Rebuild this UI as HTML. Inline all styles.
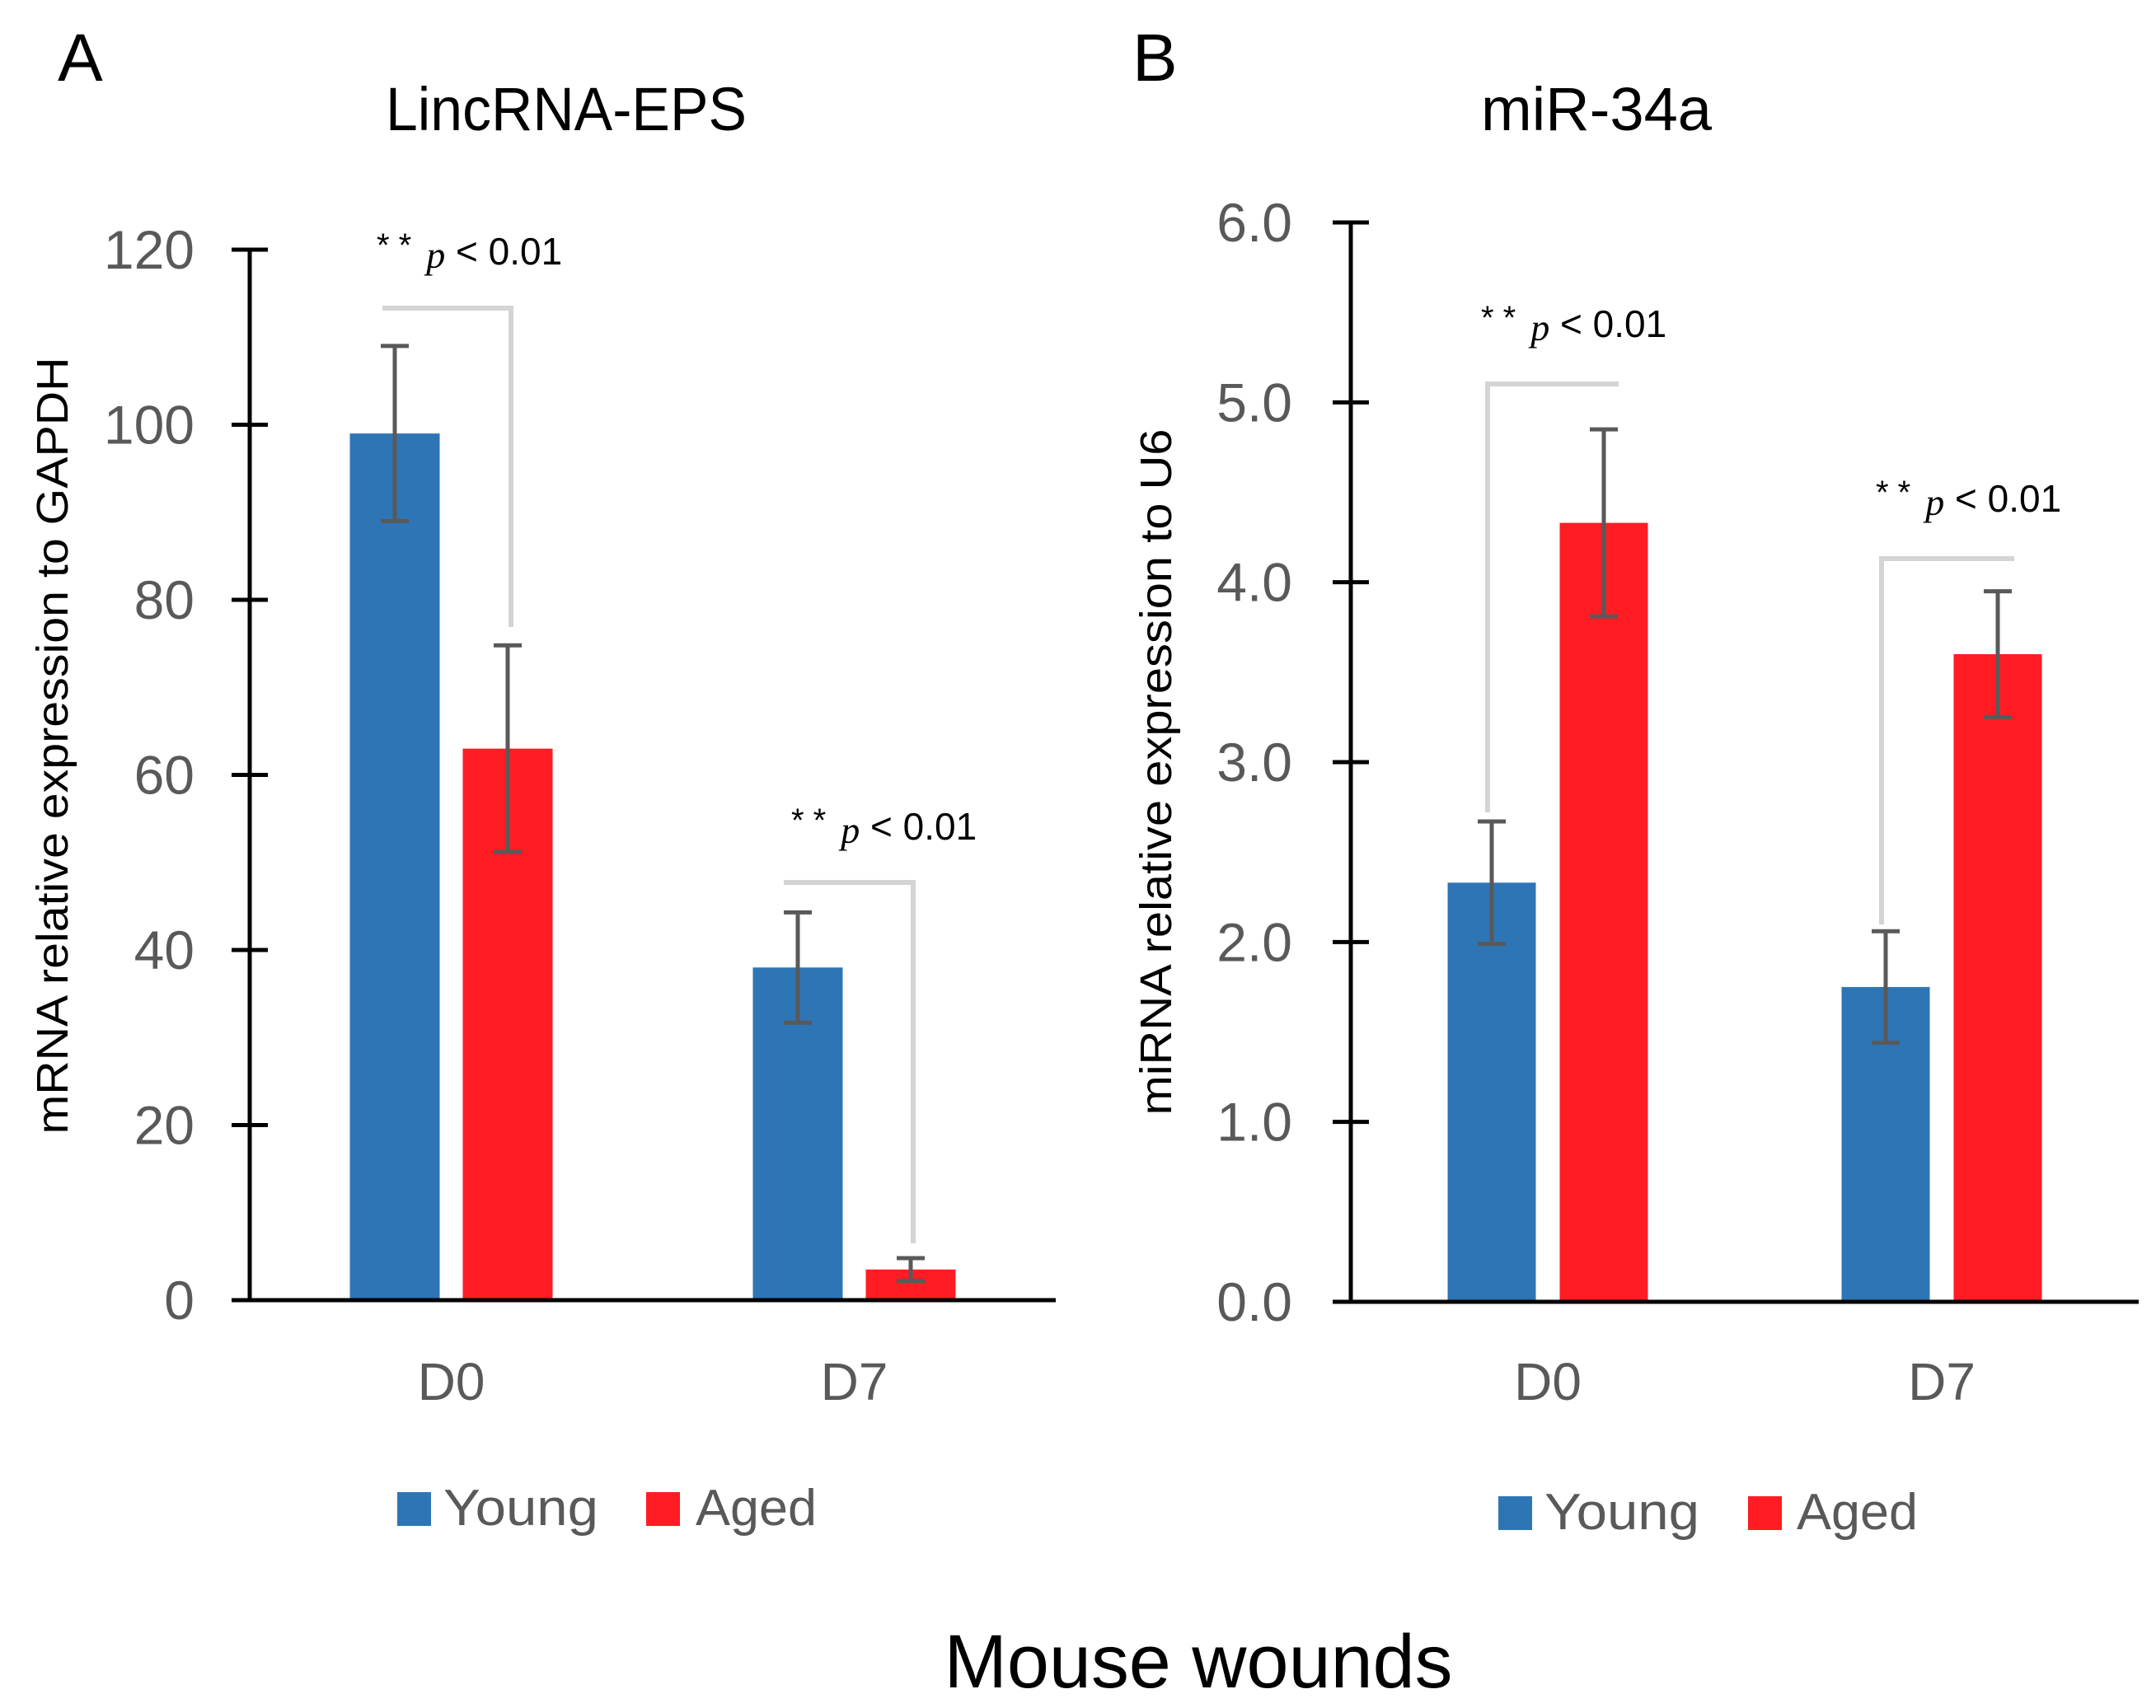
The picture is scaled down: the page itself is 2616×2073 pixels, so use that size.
<!DOCTYPE html>
<html><head><meta charset="utf-8"><style>
html,body{margin:0;padding:0;background:#fff;}
svg{display:block;font-family:"Liberation Sans",sans-serif;}
</style></head><body>
<svg id="fig" width="2616" height="2073" viewBox="0 0 2616 2073" xmlns="http://www.w3.org/2000/svg">
<text x="70" y="98" font-size="82" fill="#000">A</text>
<text x="1374" y="98" font-size="82" fill="#000">B</text>
<text x="687" y="158" font-size="74" text-anchor="middle" textLength="438" lengthAdjust="spacingAndGlyphs" fill="#000">LincRNA-EPS</text>
<text x="1937" y="158" font-size="74" text-anchor="middle" textLength="280" lengthAdjust="spacingAndGlyphs" fill="#000">miR-34a</text>
<text transform="translate(82,905) rotate(-90)" font-size="54" text-anchor="middle" textLength="943" lengthAdjust="spacingAndGlyphs" fill="#000">mRNA relative expression to GAPDH</text>
<text transform="translate(1421,937) rotate(-90)" font-size="54" text-anchor="middle" textLength="833" lengthAdjust="spacingAndGlyphs" fill="#000">miRNA relative expression to U6</text>
<g id="chartA"></g>
<g id="chartB"></g>
<g>
<rect x="482" y="1811" width="41" height="41" fill="#2e75b6"/>
<text x="538" y="1851" font-size="62" fill="#595959" textLength="188" lengthAdjust="spacingAndGlyphs">Young</text>
<rect x="784" y="1811" width="41" height="41" fill="#ff1c23"/>
<text x="844" y="1851" font-size="62" fill="#595959" textLength="147" lengthAdjust="spacingAndGlyphs">Aged</text>
</g>
<g>
<rect x="1818" y="1816" width="41" height="41" fill="#2e75b6"/>
<text x="1874" y="1856" font-size="62" fill="#595959" textLength="188" lengthAdjust="spacingAndGlyphs">Young</text>
<rect x="2121" y="1816" width="41" height="41" fill="#ff1c23"/>
<text x="2180" y="1856" font-size="62" fill="#595959" textLength="147" lengthAdjust="spacingAndGlyphs">Aged</text>
</g>
<text x="1454" y="2048" font-size="92" text-anchor="middle" textLength="617" lengthAdjust="spacingAndGlyphs" fill="#000">Mouse wounds</text>
</svg>
<script>
const categories = ["D0", "D7"];
const aYoung = [99, 38];
const aAged = [63, 3.5];
const aYoungErr = [10, 6.3];
const aAgedErr = [11.8, 1.3];
const aTicks = [0, 20, 40, 60, 80, 100, 120];
const aTickLabels = ["0", "20", "40", "60", "80", "100", "120"];
const bYoung = [2.33, 1.75];
const bAged = [4.33, 3.6];
const bYoungErr = [0.34, 0.31];
const bAgedErr = [0.52, 0.35];
const bTicks = [0, 1, 2, 3, 4, 5, 6];
const bTickLabels = ["0.0", "1.0", "2.0", "3.0", "4.0", "5.0", "6.0"];

const NS = "http://www.w3.org/2000/svg";
function mk(parent, tag, attrs) {
  const e = document.createElementNS(NS, tag);
  for (const k in attrs) e.setAttribute(k, attrs[k]);
  parent.appendChild(e);
  return e;
}
function drawChart(g, cfg) {
  const y = v => cfg.y0 + (cfg.y1 - cfg.y0) * (v - cfg.min) / (cfg.max - cfg.min);
  const xc = i => cfg.x0 + (cfg.x1 - cfg.x0) * (i + 0.5) / cfg.cats.length;
  cfg.cats.forEach((c, i) => {
    const cx = xc(i);
    [[cfg.young, cfg.youngErr, "#2e75b6", -1, "young"], [cfg.aged, cfg.agedErr, "#ff1c23", 1, "aged"]].forEach(s => {
      const v = s[0][i];
      const left = s[3] < 0 ? cx - cfg.gap / 2 - cfg.bw : cx + cfg.gap / 2;
      const r = mk(g, "rect", { x: left, y: y(v), width: cfg.bw, height: y(cfg.min) - y(v), fill: s[2] });
      
      
      const ex = left + cfg.bw / 2, e = s[1][i];
      const eg = mk(g, "g", { stroke: "#595959", "stroke-width": 5 });
      
      
      mk(eg, "line", { x1: ex, x2: ex, y1: y(v - e), y2: y(v + e) });
      mk(eg, "line", { x1: ex - 17, x2: ex + 17, y1: y(v - e), y2: y(v - e) });
      mk(eg, "line", { x1: ex - 17, x2: ex + 17, y1: y(v + e), y2: y(v + e) });
    });
    const t = mk(g, "text", { x: cx, y: 1699, "font-size": 64, "text-anchor": "middle", fill: "#595959" });
    t.textContent = c;
    
    
  });
  const ax = mk(g, "line", { x1: cfg.x0, x2: cfg.x0, y1: y(cfg.max), y2: y(cfg.min), stroke: "#000", "stroke-width": 5 });
  
  
  const xa = mk(g, "line", { x1: cfg.x0 - 22, x2: cfg.x1, y1: y(cfg.min), y2: y(cfg.min), stroke: "#000", "stroke-width": 5 });
  
  
  cfg.ticks.forEach((v, k) => {
    const tl = mk(g, "line", { x1: cfg.x0 - 22, x2: cfg.x0 + 22, y1: y(v), y2: y(v), stroke: "#000", "stroke-width": 5 });
    
    
    const t = mk(g, "text", { x: cfg.labelRight, y: y(v) + 23, "font-size": 66, "text-anchor": "end", fill: "#595959" });
    t.textContent = cfg.labels[k];
    
    
  });
  cfg.brackets.forEach((b, i) => {
    const bg = mk(g, "polyline", { points: b.pts, fill: "none", stroke: "#d4d4d4", "stroke-width": 6 });
    
    
    const t = mk(g, "text", { x: b.tx, y: b.ty, "font-size": 46, fill: "#000" });
    
    
    t.innerHTML = '<tspan font-size="40" dy="-10">* *</tspan><tspan dx="18" dy="14" font-style="italic" font-family="Liberation Serif">p</tspan><tspan dy="-4"> &lt; 0.01</tspan>';
  });
}
drawChart(document.getElementById("chartA"), {
  cats: categories, young: aYoung, aged: aAged, youngErr: aYoungErr, agedErr: aAgedErr,
  ticks: aTicks, labels: aTickLabels, min: 0, max: 120,
  x0: 303, x1: 1281, y0: 1578, y1: 303, bw: 109, gap: 28, labelRight: 236,
  brackets: [
    { pts: "464,374 620,374 620,761", tx: 457, ty: 321 },
    { pts: "951,1071 1108,1071 1108,1509", tx: 960, ty: 1019 }
  ]
});
drawChart(document.getElementById("chartB"), {
  cats: categories, young: bYoung, aged: bAged, youngErr: bYoungErr, agedErr: bAgedErr,
  ticks: bTicks, labels: bTickLabels, min: 0, max: 6,
  x0: 1639, x1: 2595, y0: 1580, y1: 270, bw: 107, gap: 29, labelRight: 1568,
  brackets: [
    { pts: "1805,986 1805,466 1964,466", tx: 1797, ty: 409 },
    { pts: "2283,1122 2283,678 2444,678", tx: 2276, ty: 621 }
  ]
});
</script>
</body></html>
